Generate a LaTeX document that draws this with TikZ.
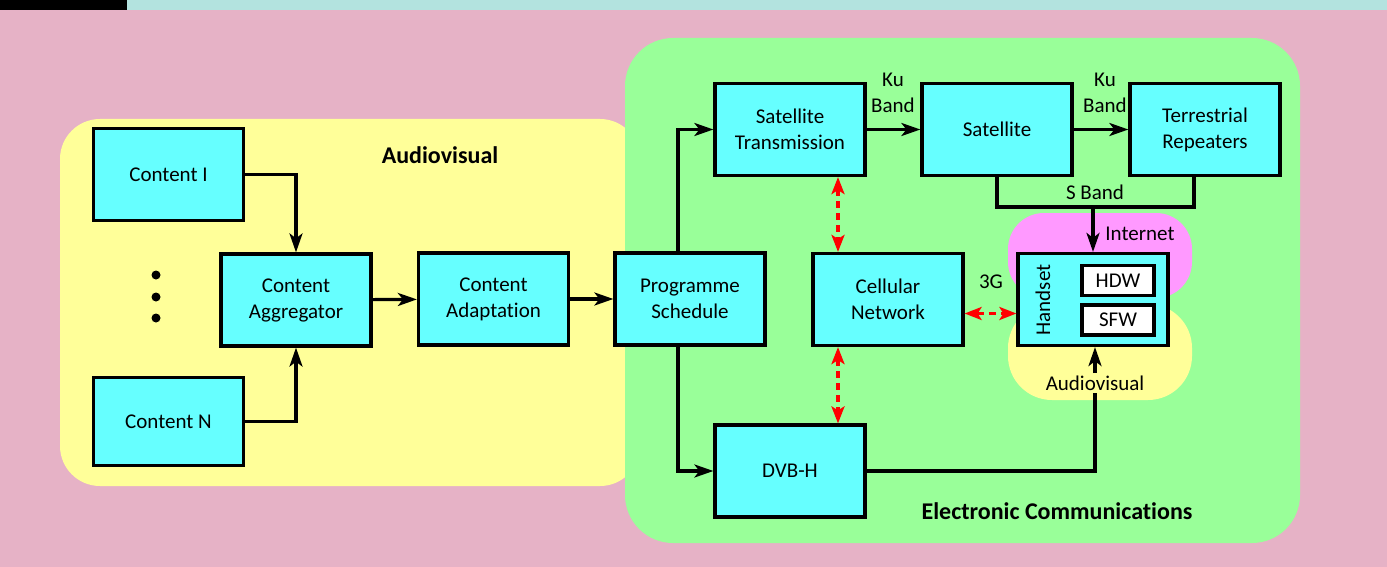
\documentclass[tikz,border=0pt]{standalone}
\usepackage{fontspec}
\setmainfont{Carlito}[RawFeature={-liga;-clig;-calt;-dlig}]
\usetikzlibrary{arrows.meta}
\definecolor{bgpink}{HTML}{E6B2C6}
\definecolor{topbar}{HTML}{B3E3DF}
\definecolor{regyellow}{HTML}{FFFF99}
\definecolor{reggreen}{HTML}{99FF99}
\definecolor{boxcyan}{HTML}{66FFFF}
\definecolor{blobpink}{HTML}{FF99FF}
\definecolor{arrred}{HTML}{FF0000}
\begin{document}
\begin{tikzpicture}[x=0.5pt,y=-0.5pt,
  every node/.style={font=\fontsize{10.5}{13}\selectfont},
  box/.style={draw, line width=1.6pt, fill=boxcyan, minimum width=75pt, minimum height=46pt, align=center, inner sep=0pt},
  smallbox/.style={draw, line width=1.6pt, fill=white, minimum width=36pt, minimum height=15pt, inner sep=0pt},
  lbl/.style={inner sep=1pt, align=center},
  title/.style={font=\fontsize{12}{14}\selectfont\bfseries},
  conn/.style={line width=1.6pt},
  arr/.style={line width=1.6pt, -{Stealth[length=9.5pt,width=6.5pt,inset=2.5pt]}},
  redarr/.style={arrred, line width=1.6pt, dash pattern=on 3.5pt off 2.5pt, {Stealth[length=8.5pt,width=6.5pt,inset=2pt]}-{Stealth[length=8.5pt,width=6.5pt,inset=2pt]}}
]
% background
\fill[bgpink] (0,0) rectangle (1387,567);
\useasboundingbox (0,0) rectangle (1387,567);
\fill[black] (0,0) rectangle (127,10);
\fill[topbar] (127,0) rectangle (1387,10);
% regions
\fill[regyellow, rounded corners=20pt] (60,119) rectangle (640,486);
\fill[reggreen, rounded corners=24pt] (625,38) rectangle (1300,543);
\fill[blobpink, rounded corners=18pt] (1008,213) rectangle (1192,298);
\fill[regyellow, rounded corners=22pt] (1008,304) rectangle (1192,400);
% titles
\node[title] (tav) at (440,155) {Audiovisual};
\node[title] (tec) at (1057,511) {Electronic Communications};
% boxes
\node[box] (c1) at (168.5,174.5) {Content I};
\node[box] (agg) at (296,300) {Content\\Aggregator};
\node[box, minimum height=44pt] (cN) at (168.5,421.5) {Content N};
\node[box] (adapt) at (493.5,299) {Content\\Adaptation};
\node[box] (prog) at (690,299) {Programme\\Schedule};
\node[box] (st) at (790,129.5) {Satellite\\Transmission};
\node[box] (sat) at (997,129.5) {Satellite};
\node[box] (tr) at (1205,129.5) {Terrestrial\\Repeaters};
\node[box] (cell) at (888,299.5) {Cellular\\Network};
\node[box] (dvb) at (790,471) {DVB-H};
\node[box] (hs) at (1093,299.5) {};
\node[rotate=90, inner sep=0pt] (hsl) at (1043,300) {Handset};
\node[smallbox] (hdw) at (1118,280.5) {HDW};
\node[smallbox] (sfw) at (1118,320) {SFW};
% dots
\fill (156,275) circle (2.25pt);
\fill (156,297) circle (2.25pt);
\fill (156,318) circle (2.25pt);
% arrows in audiovisual
\draw[arr] (c1.east) -| (agg.north);
\draw[arr] (cN.east) -| (agg.south);
\draw[arr] (agg) -- (adapt);
\draw[arr] (adapt) -- (prog);
\draw[arr] ([xshift=-6pt]prog.north) |- (st.west);
\draw[arr] ([xshift=-6pt]prog.south) |- (dvb.west);
% satellite chain
\draw[arr] (st) -- (sat);
\draw[arr] (sat) -- (tr);
\node[lbl] (ku1) at (893,93) {Ku\\Band};
\node[lbl] (ku2) at (1105,93) {Ku\\Band};
\coordinate (sbl) at (sat.south |- 0,207);
\coordinate (sbr) at ([xshift=-5.5pt]tr.south |- 0,207);
\coordinate (sbm) at (hs.north |- 0,207);
\draw[conn] (sat.south) -- (sbl) -- (sbr) -- ([xshift=-5.5pt]tr.south);
\node[lbl] (sband) at (1095,192) {S Band};
\draw[arr] (sbm) -- (hs.north);
\node[lbl] (inet) at (1140,234) {Internet};
% red links
\coordinate (rd1) at ([xshift=-25pt]cell.north);
\coordinate (rd2) at ([xshift=-25pt]cell.south);
\draw[redarr] (rd1 |- st.south) -- (rd1);
\draw[redarr] (rd2) -- (rd2 |- dvb.north);
\draw[redarr] ([yshift=-7pt]cell.east) -- ([yshift=-7pt]hs.west);
\node[lbl] (g3) at (991,282) {3G};
% DVB-H to handset
\node[lbl] (avl) at (1095,383) {Audiovisual};
\draw[conn] (dvb.east) -| (avl.south);
\draw[arr] (avl.north) -- (avl.north |- hs.south);
\end{tikzpicture}
\end{document}
